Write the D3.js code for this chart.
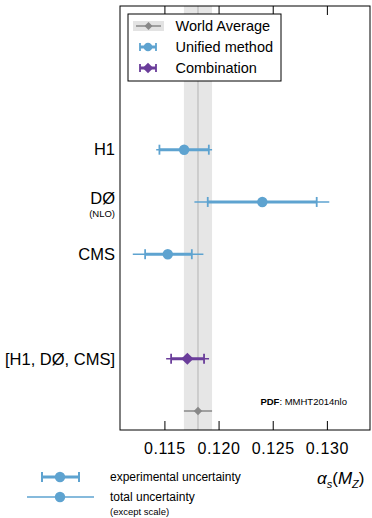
<!DOCTYPE html>
<html><head><meta charset="utf-8">
<script src="https://cdn.jsdelivr.net/npm/d3@7"></script>
<style>body{margin:0;background:#fff}text{font-family:"Liberation Sans",Arial,sans-serif}</style>
</head><body><svg id="c" width="372" height="518"></svg>
<script>
const labels = ["H1", "DØ", "CMS", "[H1, DØ, CMS]"];
const sublabels = ["", "(NLO)", "", ""];
const rows = [0, 1, 2, 4];
const central = [0.11682, 0.12404, 0.11531, 0.11712];
const expLo = [0.11454, 0.11900, 0.11322, 0.11562];
const expHi = [0.11910, 0.12906, 0.11753, 0.11866];
const totLo = [0.11424, 0.11777, 0.11208, 0.11516];
const totHi = [0.11940, 0.13022, 0.11860, 0.11912];
const kinds = ["unified", "unified", "unified", "combination"];
const worldAvg = 0.1181, worldErr = 0.0013, worldRow = 5;
const xTicks = [0.115, 0.120, 0.125, 0.130];

const svg = d3.select("#c");
const L = 120, R = 370, T = 6, B = 430;
const x = d3.scaleLinear().domain([0.1109, 0.13398]).range([L, R]);
const y = d3.scaleLinear().domain([0, 5]).range([149.7, 411]);
const blue = "#5ea3d0", purple = "#6a3d9a", gray = "#888";
const col = k => k === "combination" ? purple : blue;

// world average band
svg.append("rect").attr("x", x(worldAvg - worldErr)).attr("y", T)
  .attr("width", x(worldAvg + worldErr) - x(worldAvg - worldErr)).attr("height", B - T).attr("fill", "#e6e6e6");
svg.append("line").attr("x1", x(worldAvg)).attr("x2", x(worldAvg)).attr("y1", T).attr("y2", B)
  .attr("stroke", "#c4c4c4").attr("stroke-width", 1.5);

// axes
const axB = d3.axisBottom(x).tickValues(xTicks).tickFormat(d3.format(".3f")).tickSizeInner(-9).tickSizeOuter(0).tickPadding(13);
const gB = svg.append("g").attr("transform", `translate(0,${B})`).call(axB);
gB.select(".domain").remove();
gB.selectAll("line").attr("stroke", "#000");
gB.selectAll("text").attr("font-size", 16).attr("letter-spacing", 0.6).attr("fill", "#000");
const axT = d3.axisTop(x).tickValues(xTicks).tickFormat("").tickSizeInner(-9).tickSizeOuter(0);
const gT = svg.append("g").attr("transform", `translate(0,${T})`).call(axT);
gT.select(".domain").remove();
gT.selectAll("line").attr("stroke", "#000");
svg.append("rect").attr("x", L).attr("y", T).attr("width", R - L).attr("height", B - T)
  .attr("fill", "none").attr("stroke", "#000").attr("stroke-width", 1);

// measurements
const data = labels.map((l, i) => ({l, s: sublabels[i], r: rows[i], c: central[i], el: expLo[i], eh: expHi[i], tl: totLo[i], th: totHi[i], k: kinds[i]}));
const g = svg.append("g");
data.forEach(d => {
  const yy = y(d.r), c = col(d.k);
  g.append("line").attr("x1", x(d.tl)).attr("x2", x(d.th)).attr("y1", yy).attr("y2", yy).attr("stroke", c).attr("stroke-width", 1.5);
  g.append("line").attr("x1", x(d.el)).attr("x2", x(d.eh)).attr("y1", yy).attr("y2", yy).attr("stroke", c).attr("stroke-width", 3);
  [d.el, d.eh].forEach(v => g.append("line").attr("x1", x(v)).attr("x2", x(v)).attr("y1", yy - 5).attr("y2", yy + 5).attr("stroke", c).attr("stroke-width", 1.8));
  if (d.k === "combination") {
    g.append("path").attr("d", d3.symbol(d3.symbolDiamond2, 95)()).attr("transform", `translate(${x(d.c)},${yy})`).attr("fill", c);
  } else {
    g.append("circle").attr("cx", x(d.c)).attr("cy", yy).attr("r", 5.2).attr("fill", c);
  }
  svg.append("text").attr("x", 115).attr("y", yy - (d.s ? 4 : 0)).attr("dy", "0.35em").attr("text-anchor", "end").attr("font-size", 16.5).text(d.l);
  if (d.s) svg.append("text").attr("x", 115).attr("y", yy + 12).attr("dy", "0.35em").attr("text-anchor", "end").attr("font-size", 9.5).text(d.s);
});
// world average point
const wy = y(worldRow);
g.append("line").attr("x1", x(worldAvg - worldErr)).attr("x2", x(worldAvg + worldErr)).attr("y1", wy).attr("y2", wy).attr("stroke", gray).attr("stroke-width", 1.5);
g.append("path").attr("d", d3.symbol(d3.symbolDiamond2, 45)()).attr("transform", `translate(${x(worldAvg)},${wy})`).attr("fill", gray);

// PDF text
const pt = svg.append("text").attr("x", 347).attr("y", 402).attr("dy", "0.35em").attr("text-anchor", "end").attr("font-size", 9.5);
pt.append("tspan").attr("font-weight", "bold").text("PDF");
pt.append("tspan").text(": MMHT2014nlo");

// legend
const lg = svg.append("g");
lg.append("rect").attr("x", 128).attr("y", 14).attr("width", 153).attr("height", 67).attr("fill", "#fff").attr("stroke", "#000").attr("stroke-width", 1);
const ly = [26, 47, 68];
lg.append("rect").attr("x", 133).attr("y", 21).attr("width", 31).attr("height", 10).attr("fill", "#e3e3e3");
lg.append("line").attr("x1", 136).attr("x2", 161).attr("y1", ly[0]).attr("y2", ly[0]).attr("stroke", gray).attr("stroke-width", 1.5);
lg.append("path").attr("d", d3.symbol(d3.symbolDiamond2, 40)()).attr("transform", `translate(148.5,${ly[0]})`).attr("fill", gray);
[[1, blue, "circle"], [2, purple, "diamond"]].forEach(([i, c, m]) => {
  const yy = ly[i];
  lg.append("line").attr("x1", 140).attr("x2", 156).attr("y1", yy).attr("y2", yy).attr("stroke", c).attr("stroke-width", 3);
  [140, 156].forEach(v => lg.append("line").attr("x1", v).attr("x2", v).attr("y1", yy - 4).attr("y2", yy + 4).attr("stroke", c).attr("stroke-width", 1.8));
  if (m === "circle") lg.append("circle").attr("cx", 148).attr("cy", yy).attr("r", 4.3).attr("fill", c);
  else lg.append("path").attr("d", d3.symbol(d3.symbolDiamond2, 70)()).attr("transform", `translate(148,${yy})`).attr("fill", c);
});
["World Average", "Unified method", "Combination"].forEach((t, i) =>
  lg.append("text").attr("x", 175.5).attr("y", ly[i]).attr("dy", "0.35em").attr("font-size", 14.5).text(t));

// bottom legend
const by1 = 477, by2 = 497;
svg.append("line").attr("x1", 42).attr("x2", 79).attr("y1", by1).attr("y2", by1).attr("stroke", blue).attr("stroke-width", 3);
[42, 79].forEach(v => svg.append("line").attr("x1", v).attr("x2", v).attr("y1", by1 - 5).attr("y2", by1 + 5).attr("stroke", blue).attr("stroke-width", 2));
svg.append("circle").attr("cx", 60).attr("cy", by1).attr("r", 5.2).attr("fill", blue);
svg.append("line").attr("x1", 27).attr("x2", 94).attr("y1", by2).attr("y2", by2).attr("stroke", blue).attr("stroke-width", 1.5);
svg.append("circle").attr("cx", 60).attr("cy", by2).attr("r", 5.2).attr("fill", blue);
svg.append("text").attr("x", 110).attr("y", by1).attr("dy", "0.35em").attr("font-size", 12).text("experimental uncertainty");
svg.append("text").attr("x", 110).attr("y", by2).attr("dy", "0.35em").attr("font-size", 12).text("total uncertainty");
svg.append("text").attr("x", 110).attr("y", 512).attr("dy", "0.35em").attr("font-size", 9.5).text("(except scale)");
const at = svg.append("text").attr("x", 317).attr("y", 478).attr("dy", "0.35em").attr("font-size", 17).attr("font-family", "DejaVu Sans, sans-serif");
at.append("tspan").attr("font-style", "italic").text("α");
at.append("tspan").attr("font-size", 11).attr("dy", 4).attr("font-style", "italic").text("s");
at.append("tspan").attr("dy", -4).text("(");
at.append("tspan").attr("font-style", "italic").text("M");
at.append("tspan").attr("font-size", 11).attr("dy", 4).attr("font-style", "italic").text("Z");
at.append("tspan").attr("dy", -4).text(")");
</script></body></html>
